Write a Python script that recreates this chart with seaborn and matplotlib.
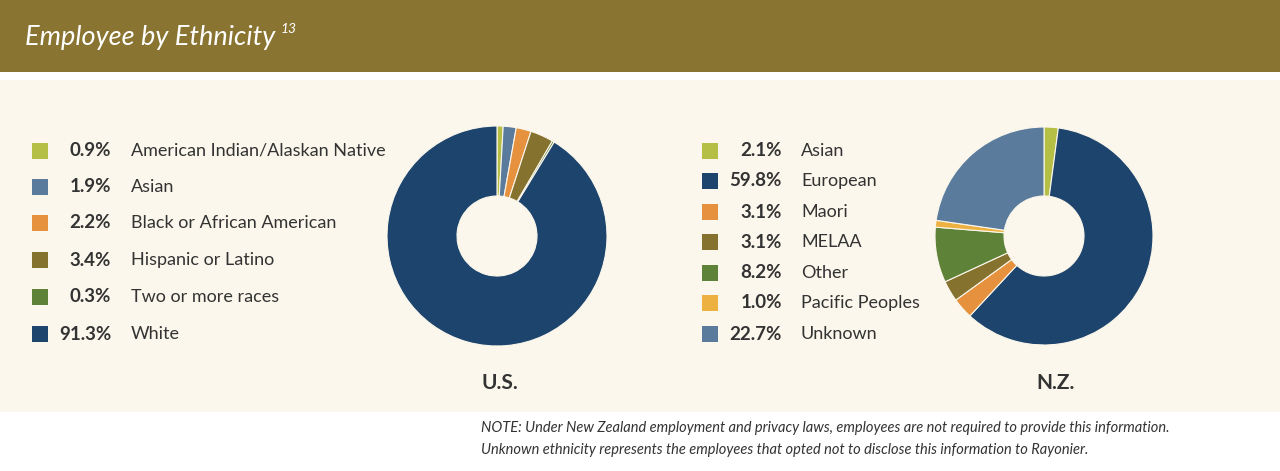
import matplotlib
matplotlib.use("Agg")
import matplotlib.pyplot as plt
import seaborn as sns
from matplotlib.patches import Rectangle

sns.set_theme(style="white")
plt.rcParams['font.family'] = ['Lato', 'DejaVu Sans']

# ---- data ----
us_categories = ["American Indian/Alaskan Native", "Asian", "Black or African American",
                 "Hispanic or Latino", "Two or more races", "White"]
us_values = [0.9, 1.9, 2.2, 3.4, 0.3, 91.3]
us_colors = ["#B5BE45", "#5A7B9C", "#E6913E", "#85722F", "#5E8238", "#1D446D"]

nz_categories = ["Asian", "European", "Maori", "MELAA", "Other", "Pacific Peoples", "Unknown"]
nz_values = [2.1, 59.8, 3.1, 3.1, 8.2, 1.0, 22.7]
nz_colors = ["#B5BE45", "#1D446D", "#E6913E", "#85722F", "#5E8238", "#EDB141", "#5A7B9C"]

title = "Employee by Ethnicity"
title_sup = "13"
note_lines = ["NOTE: Under New Zealand employment and privacy laws, employees are not required to provide this information.",
              "Unknown ethnicity represents the employees that opted not to disclose this information to Rayonier."]

W, H = 1280, 471
fig = plt.figure(figsize=(W / 100, H / 100), dpi=100)
fig.patch.set_facecolor("white")

def fx(px):
    return px / W

def fy(py):
    return 1 - py / H

# backgrounds
fig.patches.append(Rectangle((0, fy(72)), 1, 72 / H, transform=fig.transFigure,
                             facecolor="#897431", edgecolor="none", zorder=-5))
fig.patches.append(Rectangle((0, fy(412)), 1, (412 - 80) / H, transform=fig.transFigure,
                             facecolor="#FBF7EC", edgecolor="none", zorder=-5))

t = fig.text(fx(25), fy(38), title, color="white", fontsize=19.5, fontstyle="italic",
             fontweight="normal", va="center", ha="left")
fig.canvas.draw()
bb = t.get_window_extent()
fig.text((bb.x1 + 5) / W, fy(29), title_sup, color="white", fontsize=10, fontstyle="italic",
         fontweight="normal", va="center", ha="left")

def donut(cx, cy, r, values, colors):
    ax = fig.add_axes([fx(cx - r), fy(cy + r), 2 * r / W, 2 * r / H], zorder=2)
    ax.patch.set_alpha(0)
    ax.pie(values, colors=colors, startangle=90, counterclock=False, radius=1,
           wedgeprops=dict(width=1 - 40 / r, edgecolor="#FBF7EC", linewidth=0.8))
    ax.set_xlim(-1, 1)
    ax.set_ylim(-1, 1)
    ax.set_aspect("equal")
    ax.axis("off")

donut(497, 236, 110, us_values, us_colors)
donut(1044, 236, 109, nz_values, nz_colors)

def legend(x_sq, x_pct, x_lab, ys, cats, vals, cols):
    for y, c, v, col in zip(ys, cats, vals, cols):
        fig.patches.append(Rectangle((fx(x_sq), fy(y + 8)), 16 / W, 16 / H,
                                     transform=fig.transFigure, facecolor=col,
                                     edgecolor="none", zorder=1))
        fig.text(fx(x_pct), fy(y), f"{v:.1f}%", fontsize=13.5, fontweight="bold",
                 color="#333333", ha="right", va="center")
        fig.text(fx(x_lab), fy(y), c, fontsize=13, color="#333333", ha="left", va="center")

legend(32, 111, 131, [151, 187, 223, 260, 297, 334], us_categories, us_values, us_colors)
legend(702, 782, 801, [151, 181, 212, 242, 273, 303, 334], nz_categories, nz_values, nz_colors)

fig.text(fx(500), fy(383), "U.S.", fontsize=15, fontweight="bold", color="#333333",
         ha="center", va="center")
fig.text(fx(1056), fy(383), "N.Z.", fontsize=15, fontweight="bold", color="#333333",
         ha="center", va="center")

fig.text(fx(481), fy(428), note_lines[0], fontsize=10.5, fontstyle="italic",
         color="#333333", ha="left", va="center")
fig.text(fx(481), fy(450), note_lines[1], fontsize=10.5, fontstyle="italic",
         color="#333333", ha="left", va="center")

fig.savefig("out.png", dpi=100, facecolor=fig.get_facecolor())
